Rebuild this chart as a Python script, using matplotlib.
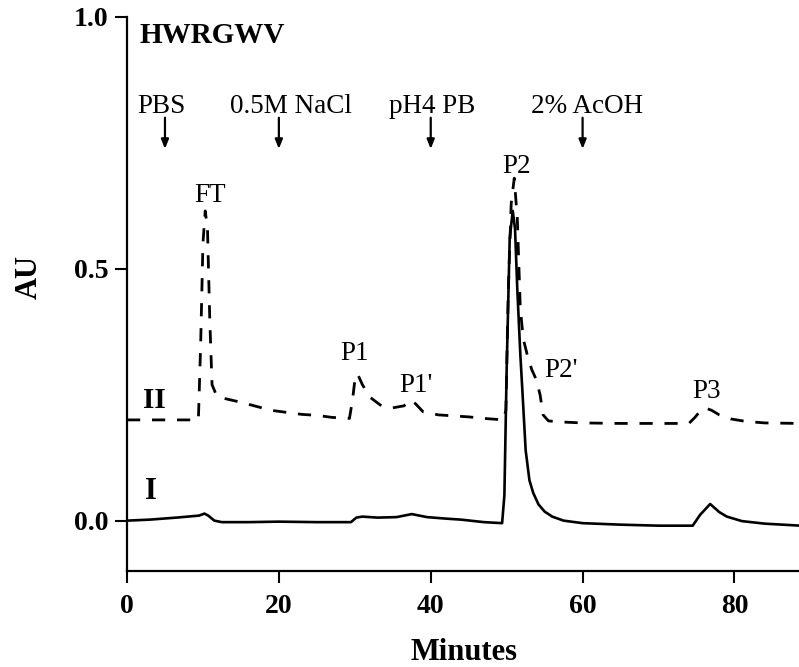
import matplotlib
matplotlib.use("Agg")
import matplotlib.pyplot as plt

plt.rcParams['font.family'] = ['Liberation Serif', 'DejaVu Serif']
plt.rcParams['lines.scale_dashes'] = False

# Trace I (solid)
timeI = [0, 3, 6.5, 9.5, 10.2, 10.7, 11.5, 12.5, 16, 20, 25, 29.5, 30.2, 31, 33,
         35.5, 37.5, 39.5, 42, 44, 47, 49.4, 49.7, 50.0, 50.4, 50.8, 51.1, 51.4,
         51.8, 52.1, 52.5, 53.0, 53.5, 54.2, 55, 56, 57.5, 60, 65, 70, 74.5, 75.5,
         76.8, 78, 79, 81, 84, 88.7]
auI = [0.0, 0.002, 0.006, 0.01, 0.014, 0.01, 0.0, -0.003, -0.003, -0.002, -0.003,
       -0.003, 0.006, 0.008, 0.006, 0.007, 0.013, 0.007, 0.004, 0.002, -0.003,
       -0.005, 0.05, 0.3, 0.56, 0.615, 0.58, 0.46, 0.33, 0.25, 0.14, 0.08, 0.055,
       0.032, 0.018, 0.008, 0.0, -0.005, -0.008, -0.01, -0.01, 0.012, 0.033,
       0.017, 0.008, -0.001, -0.006, -0.01]

# Trace II (dashed)
timeII = [0, 9.4, 9.7, 10.0, 10.3, 10.6, 10.9, 11.2, 11.8, 13, 15, 17, 19, 21, 23,
          25, 27, 29.3, 29.7, 30.1, 30.4, 31.0, 32.0, 33.5, 35, 36.5, 37.3, 38.0,
          39, 41, 43, 45, 47, 49.6, 49.9, 50.2, 50.6, 51.0, 51.4, 51.8, 52.2, 52.7,
          53.3, 53.9, 54.4, 54.8, 55.5, 57, 60, 65, 70, 74, 74.8, 75.5, 76.1, 77,
          78, 79.5, 81.5, 84, 88.7]
auII = [0.2, 0.2, 0.35, 0.55, 0.615, 0.58, 0.40, 0.27, 0.248, 0.242, 0.235, 0.227,
        0.219, 0.215, 0.211, 0.209, 0.205, 0.203, 0.24, 0.29, 0.29, 0.27, 0.245,
        0.228, 0.224, 0.228, 0.24, 0.232, 0.216, 0.21, 0.208, 0.206, 0.203, 0.2,
        0.22, 0.45, 0.63, 0.68, 0.6, 0.42, 0.36, 0.33, 0.3, 0.28, 0.25, 0.21,
        0.198, 0.196, 0.194, 0.193, 0.193, 0.193, 0.205, 0.218, 0.224, 0.219,
        0.21, 0.202, 0.197, 0.194, 0.193]

# Buffer changes
bufferNames = ["PBS", "0.5M NaCl", "pH4 PB", "2% AcOH"]
bufferTimes = [5, 20, 40, 60]

# Peak labels
peakNames = ["FT", "P1", "P1'", "P2", "P2'", "P3"]
peakTimes = [10.9, 30.0, 38.0, 51.3, 57.2, 76.3]

xTicks = [0, 20, 40, 60, 80]
yTicks = [0.0, 0.5, 1.0]

fig = plt.figure(figsize=(7.99, 6.67), dpi=100)
ax = fig.add_axes([127 / 799, 96 / 667, 672 / 799, 554 / 667])

ax.plot(timeI, auI, color='black', lw=1.9, solid_joinstyle='round')
ax.plot(timeII, auII, color='black', lw=2.0, dashes=(9.5, 8.5))

ax.set_xlim(0, 88.5)
ax.set_ylim(-0.1, 1.0)
ax.set_xticks(xTicks)
ax.set_yticks(yTicks)
ax.set_xticklabels([str(t) for t in xTicks], fontsize=20, fontweight='bold')
ax.set_yticklabels(["%.1f" % t for t in yTicks], fontsize=20, fontweight='bold')
ax.tick_params(direction='out', length=8.5, width=1.5, pad=5)
ax.tick_params(axis='x', pad=8)

for s in ['top', 'right']:
    ax.spines[s].set_visible(False)
for s in ['left', 'bottom']:
    ax.spines[s].set_linewidth(1.6)

ax.set_xlabel("Minutes", fontsize=22, fontweight='bold', va='center')
ax.xaxis.set_label_coords(0.502, -0.148)
ax.set_ylabel("AU", fontsize=22, fontweight='bold', va='center')
ax.yaxis.set_label_coords(-0.145, 0.53)

ax.text(1.6, 0.948, "HWRGWV", fontsize=21, fontweight='bold', ha='left', va='baseline')

# Buffer labels with arrows
bufferTextX = [1.3, 13.55, 34.5, 53.2]
for name, t, tx in zip(bufferNames, bufferTimes, bufferTextX):
    ax.text(tx, 0.81, name, fontsize=19.5, ha='left', va='baseline')
    ax.annotate('', xy=(t, 0.738), xytext=(t, 0.80),
                arrowprops=dict(arrowstyle='-|>,head_width=0.22,head_length=0.55',
                                color='black', lw=1.6, shrinkA=0, shrinkB=0))

peakY = [0.633, 0.319, 0.256, 0.69, 0.286, 0.244]
for name, t, y in zip(peakNames, peakTimes, peakY):
    ax.text(t, y, name, fontsize=19.5, ha='center', va='baseline')

ax.text(3.55, 0.224, "II", fontsize=21, fontweight='bold', ha='center', va='baseline')
ax.text(3.16, 0.042, "I", fontsize=22, fontweight='bold', ha='center', va='baseline')

fig.savefig("out.png", dpi=100)
